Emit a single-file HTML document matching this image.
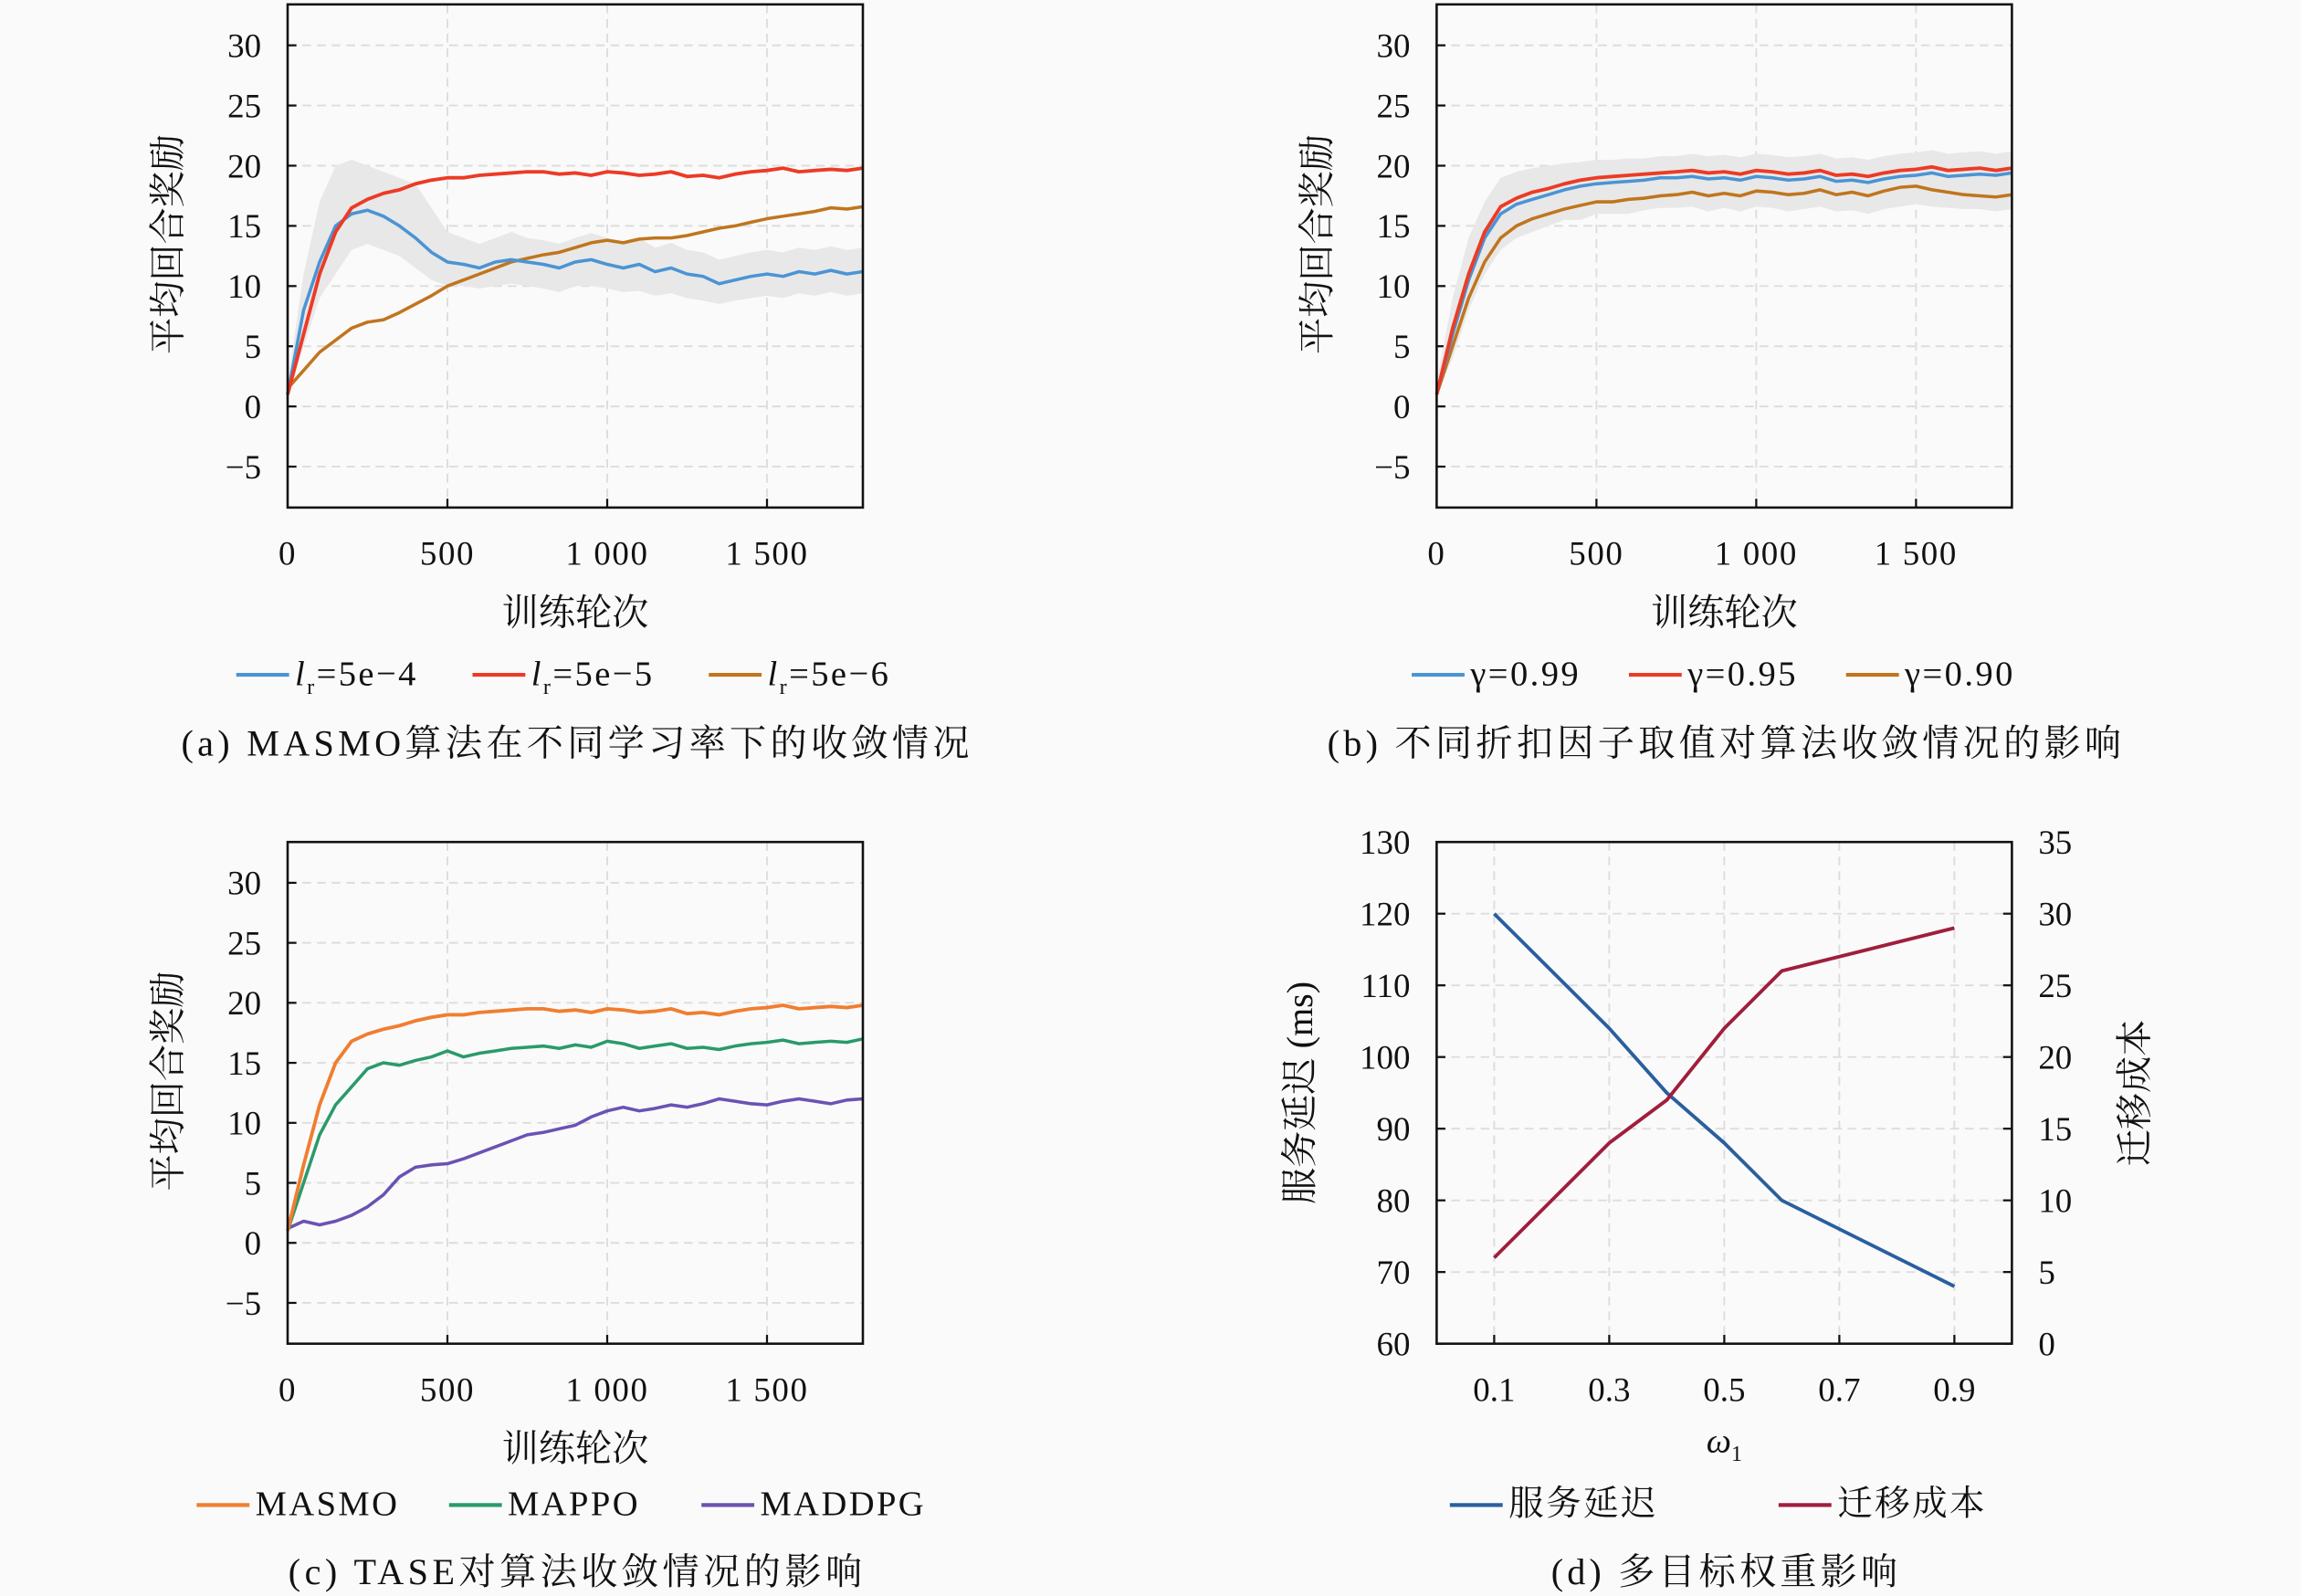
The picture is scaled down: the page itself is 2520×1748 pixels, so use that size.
<!DOCTYPE html>
<html><head><meta charset="utf-8">
<style>
html,body{margin:0;padding:0;background:#fafafa;}
svg{display:block;}
text{font-family:"Liberation Serif","Noto Serif CJK SC","Noto Sans CJK SC",serif;fill:#111;}
</style></head>
<body>
<svg id="fig" width="2520" height="1748" viewBox="0 0 1568 1088" preserveAspectRatio="none" xmlns="http://www.w3.org/2000/svg">
<rect x="0" y="0" width="1568" height="1088" fill="#fafafa"/>
</svg>
<script>
// ---- data ----
const episodes = [0,50,100,150,200,250,300,350,400,450,500,550,600,650,700,750,800,850,900,950,1000,1050,1100,1150,1200,1250,1300,1350,1400,1450,1500,1550,1600,1650,1700,1750,1800];
const aLr4 = [1,8,12,15,16,16.3,15.8,15,14,12.8,12,11.8,11.5,12,12.2,12,11.8,11.5,12,12.2,11.8,11.5,11.8,11.2,11.5,11,10.8,10.2,10.5,10.8,11,10.8,11.2,11,11.3,11,11.2];
const aLr5 = [1,6,11,14.5,16.5,17.2,17.7,18,18.5,18.8,19,19,19.2,19.3,19.4,19.5,19.5,19.3,19.4,19.2,19.5,19.4,19.2,19.3,19.5,19.1,19.2,19,19.3,19.5,19.6,19.8,19.5,19.6,19.7,19.6,19.8];
const aLr6 = [1.5,3,4.5,5.5,6.5,7,7.2,7.8,8.5,9.2,10,10.5,11,11.5,12,12.3,12.6,12.8,13.2,13.6,13.8,13.6,13.9,14,14,14.2,14.5,14.8,15,15.3,15.6,15.8,16,16.2,16.5,16.4,16.6];
const aBandLo = [1,5,9,11,13,13.5,13,12.5,11.5,10.5,10,10,9.8,10,10.2,10,9.8,9.5,10,10,9.8,9.5,9.6,9.2,9.4,9,8.8,8.5,8.8,9,9.2,9,9.4,9.2,9.5,9.2,9.4];
const aBandHi = [2,11,17,20,20.5,20,19.5,19,18.5,16.5,14.5,14,13.5,14,14.5,14,13.8,13.5,14,14.4,14,13.5,14,13.2,13.6,13,12.8,12.2,12.5,12.8,13,12.8,13.2,13,13.3,13,13.2];
const b99 = [1,6,10.5,14,16,16.8,17.2,17.6,18,18.3,18.5,18.6,18.7,18.8,19,19,19.1,18.9,19,18.8,19.1,19,18.8,18.9,19.1,18.7,18.8,18.6,18.9,19.1,19.2,19.4,19.1,19.2,19.3,19.2,19.4];
const b95 = [1,6.5,11,14.5,16.6,17.3,17.8,18.1,18.5,18.8,19,19.1,19.2,19.3,19.4,19.5,19.6,19.4,19.5,19.3,19.6,19.5,19.3,19.4,19.6,19.2,19.3,19.1,19.4,19.6,19.7,19.9,19.6,19.7,19.8,19.6,19.8];
const b90 = [1,5,9,12,14,15,15.6,16,16.4,16.7,17,17,17.2,17.3,17.5,17.6,17.8,17.5,17.7,17.5,17.9,17.8,17.6,17.7,18,17.6,17.8,17.5,17.9,18.2,18.3,18,17.8,17.6,17.5,17.4,17.6];
const bBandLo = [1,4,8,11,13,14,14.5,15,15.5,15.5,16,16,16,16.3,16.5,16.5,16.6,16.2,16.5,16.2,16.6,16.5,16.2,16.4,16.6,16.2,16.3,16,16.4,16.6,16.8,16.6,16.5,16.4,16.4,16.2,16.4];
const bBandHi = [2,9,14,17,19,19.5,19.8,20,20.2,20.3,20.5,20.5,20.6,20.6,20.8,20.8,21,20.8,20.9,20.7,21,20.9,20.7,20.8,21,20.6,20.7,20.5,20.8,21,21.1,21.3,21,21.1,21.2,21,21.2];
const cMasmo = [1,6.5,11.5,15,16.8,17.4,17.8,18.1,18.5,18.8,19,19,19.2,19.3,19.4,19.5,19.5,19.3,19.4,19.2,19.5,19.4,19.2,19.3,19.5,19.1,19.2,19,19.3,19.5,19.6,19.8,19.5,19.6,19.7,19.6,19.8];
const cMappo = [1,5,9,11.5,13,14.5,15,14.8,15.2,15.5,16,15.5,15.8,16,16.2,16.3,16.4,16.2,16.5,16.3,16.8,16.6,16.2,16.4,16.6,16.2,16.3,16.1,16.4,16.6,16.7,16.9,16.6,16.7,16.8,16.7,17];
const cMaddpg = [1.2,1.8,1.5,1.8,2.3,3,4,5.5,6.3,6.5,6.6,7,7.5,8,8.5,9,9.2,9.5,9.8,10.5,11,11.3,11,11.2,11.5,11.3,11.6,12,11.8,11.6,11.5,11.8,12,11.8,11.6,11.9,12];
const yTicksReward = [-5,0,5,10,15,20,25,30];
const xTicksEp = [0,500,1000,1500];
const xTickLabelsEp = ["0","500","1 000","1 500"];
const dW = [0.1,0.3,0.4,0.5,0.6,0.9];
const dDelay = [120,104,95,88,80,68];
const dCost = [6,14,17,22,26,29];
const dXTicks = [0.1,0.3,0.5,0.7,0.9];
const dYTicksL = [60,70,80,90,100,110,120,130];
const dYTicksR = [0,5,10,15,20,25,30,35];

const NS="http://www.w3.org/2000/svg";
const svg=document.getElementById('fig');
function mk(tag,attrs,parent){const e=document.createElementNS(NS,tag);for(const k in attrs)e.setAttribute(k,attrs[k]);(parent||svg).appendChild(e);return e;}
function txt(s,x,y,size,anchor,parent,extra){const t=mk('text',Object.assign({x:x,y:y,'font-size':size,'text-anchor':anchor||'middle'},extra||{}),parent);t.textContent=s;return t;}

function panel(name,L,T,R,B,xmin,xmax,ymin,ymax){
  const g=mk('g',{});
  
  
  return {g,L,T,R,B,sx:v=>L+(v-xmin)/(xmax-xmin)*(R-L),sy:v=>B-(v-ymin)/(ymax-ymin)*(B-T)};
}
function frame(p){mk('rect',{x:p.L,y:p.T,width:p.R-p.L,height:p.B-p.T,fill:'none',stroke:'#111','stroke-width':1.6},p.g);}
function gridY(p,vals){vals.forEach(v=>{mk('line',{x1:p.L,x2:p.R,y1:p.sy(v),y2:p.sy(v),stroke:'#ddd','stroke-width':1.2,'stroke-dasharray':'6,4'},p.g);mk('line',{x1:p.L,x2:p.L+6,y1:p.sy(v),y2:p.sy(v),stroke:'#111','stroke-width':1.4},p.g);});}
function gridX(p,vals){vals.forEach(v=>{mk('line',{y1:p.T,y2:p.B,x1:p.sx(v),x2:p.sx(v),stroke:'#ddd','stroke-width':1.2,'stroke-dasharray':'6,4'},p.g);mk('line',{y1:p.B,y2:p.B-6,x1:p.sx(v),x2:p.sx(v),stroke:'#111','stroke-width':1.4},p.g);});}
function line(p,xs,ys,color,w,nm){const d=xs.map((x,i)=>(i?'L':'M')+p.sx(x).toFixed(1)+','+p.sy(ys[i]).toFixed(1)).join('');const e=mk('path',{d:d,fill:'none',stroke:color,'stroke-width':w||2.2,'stroke-linejoin':'round'},p.g);
  
  
  return e;}
function band(p,xs,lo,hi,nm){let d=xs.map((x,i)=>(i?'L':'M')+p.sx(x).toFixed(1)+','+p.sy(hi[i]).toFixed(1)).join('');for(let i=xs.length-1;i>=0;i--)d+='L'+p.sx(xs[i]).toFixed(1)+','+p.sy(lo[i]).toFixed(1);d+='Z';const e=mk('path',{d:d,fill:'#e8e8e8',stroke:'none'},p.g);
  
  }
function rewardAxes(p){
  gridY(p,yTicksReward);gridX(p,xTicksEp.slice(1));
  yTicksReward.forEach(v=>txt(v<0?'−'+(-v):String(v),p.L-18,p.sy(v)+8,23,'end',p.g));
  xTicksEp.forEach((v,i)=>txt(xTickLabelsEp[i],p.sx(v),p.B+39,23,'middle',p.g,{'letter-spacing':1}));
  txt('训练轮次',(p.L+p.R)/2,p.B+80,25,'middle',p.g);
  const yl=txt('平均回合奖励',0,0,25,'middle',p.g,{transform:`translate(${p.L-73},${(p.T+p.B)/2-8}) rotate(-90)`});
  
  
}
function legend(p,items,y,startX,gap,nm){
  const lg=mk('g',{},p.g);
  
  
  let x=startX;
  items.forEach(it=>{mk('line',{x1:x,x2:x+36,y1:y-7,y2:y-7,stroke:it.c,'stroke-width':2.6},lg);
    const t=mk('text',{x:x+40,y:y,'font-size':24,'text-anchor':'start','letter-spacing':1.5},lg);
    if(it.sub){const a=mk('tspan',{'font-style':'italic'},t);a.textContent='l';const b=mk('tspan',{'font-size':15,dy:6},t);b.textContent='r';const c=mk('tspan',{dy:-6},t);c.textContent=it.t;}
    else t.textContent=it.t;
    x+=gap;});
}
function caption(s,cx,y,w,p){const t=txt(s,cx,y,25,'middle',p.g,{textLength:w,lengthAdjust:'spacing'});
  
  }

// panel a
const pa=panel('panel-a',196,3,588,346,0,1800,-8.4,33.4);
rewardAxes(pa);
band(pa,episodes,aBandLo,aBandHi,'variance-band-a');
line(pa,episodes,aLr6,'#c0751e',2.2,'series-lr-5e-6');
line(pa,episodes,aLr4,'#4a94d4',2.2,'series-lr-5e-4');
line(pa,episodes,aLr5,'#ec3b26',2.4,'series-lr-5e-5');
frame(pa);
legend(pa,[{c:'#4a94d4',t:'=5e−4',sub:1},{c:'#ec3b26',t:'=5e−5',sub:1},{c:'#c0751e',t:'=5e−6',sub:1}],467,161,161,'legend-a');
caption('(a) MASMO算法在不同学习率下的收敛情况',392,515,537,pa);

// panel b
const pb=panel('panel-b',979,3,1371,346,0,1800,-8.4,33.4);
rewardAxes(pb);
band(pb,episodes,bBandLo,bBandHi,'variance-band-b');
line(pb,episodes,b90,'#c0751e',2.2,'series-gamma-0.90');
line(pb,episodes,b99,'#4a94d4',2.2,'series-gamma-0.99');
line(pb,episodes,b95,'#ec3b26',2.4,'series-gamma-0.95');
frame(pb);
legend(pb,[{c:'#4a94d4',t:'γ=0.99'},{c:'#ec3b26',t:'γ=0.95'},{c:'#c0751e',t:'γ=0.90'}],467,962,148,'legend-b');
caption('(b) 不同折扣因子取值对算法收敛情况的影响',1175,515,541,pb);

// panel c
const pc=panel('panel-c',196,574,588,916,0,1800,-8.4,33.4);
rewardAxes(pc);
line(pc,episodes,cMaddpg,'#6a52b4',2.2,'series-maddpg');
line(pc,episodes,cMappo,'#2a9a6a',2.2,'series-mappo');
line(pc,episodes,cMasmo,'#f07e30',2.4,'series-masmo');
frame(pc);
legend(pc,[{c:'#f07e30',t:'MASMO'},{c:'#2a9a6a',t:'MAPPO'},{c:'#6a52b4',t:'MADDPG'}],1033,134,172,'legend-c');
caption('(c) TASE对算法收敛情况的影响',392,1080,391,pc);

// panel d
const pd=panel('panel-d',979,574,1371,916,0,1,60,130);
const syR=v=>pd.B-(v-0)/35*(pd.B-pd.T);
dYTicksL.forEach(v=>{mk('line',{x1:pd.L,x2:pd.R,y1:pd.sy(v),y2:pd.sy(v),stroke:'#ddd','stroke-width':1.2,'stroke-dasharray':'6,4'},pd.g);mk('line',{x1:pd.L,x2:pd.L+6,y1:pd.sy(v),y2:pd.sy(v),stroke:'#111','stroke-width':1.4},pd.g);txt(String(v),pd.L-18,pd.sy(v)+8,23,'end',pd.g);});
dYTicksR.forEach(v=>{mk('line',{x1:pd.R-6,x2:pd.R,y1:syR(v),y2:syR(v),stroke:'#111','stroke-width':1.4},pd.g);txt(String(v),pd.R+18,syR(v)+8,23,'start',pd.g);});
dXTicks.forEach(v=>{mk('line',{y1:pd.T,y2:pd.B,x1:pd.sx(v),x2:pd.sx(v),stroke:'#ddd','stroke-width':1.2,'stroke-dasharray':'6,4'},pd.g);mk('line',{y1:pd.B,y2:pd.B-6,x1:pd.sx(v),x2:pd.sx(v),stroke:'#111','stroke-width':1.4},pd.g);txt(v.toFixed(1),pd.sx(v),pd.B+39,23,'middle',pd.g);});
line(pd,dW,dDelay,'#2a5f9e',2.4,'series-service-delay');
{const d=dW.map((x,i)=>(i?'L':'M')+pd.sx(x).toFixed(1)+','+syR(dCost[i]).toFixed(1)).join('');const e=mk('path',{d:d,fill:'none',stroke:'#a01e3c','stroke-width':2.4},pd.g);

}
frame(pd);
{const t=mk('text',{x:1175,y:990,'font-size':24,'text-anchor':'middle','font-style':'italic'},pd.g);t.textContent='ω';const s=mk('tspan',{'font-size':15,dy:6,'font-style':'normal'},t);s.textContent='1';}
txt('服务延迟 (ms)',0,0,25,'middle',pd.g,{transform:`translate(${pd.L-85},${(pd.T+pd.B)/2}) rotate(-90)`});
txt('迁移成本',0,0,25,'middle',pd.g,{transform:`translate(${pd.R+92},${(pd.T+pd.B)/2}) rotate(-90)`});
legend(pd,[{c:'#2a5f9e',t:'服务延迟'},{c:'#a01e3c',t:'迁移成本'}],1033,988,224,'legend-d');
caption('(d) 多目标权重影响',1175,1080,236,pd);
</script>
</body></html>
